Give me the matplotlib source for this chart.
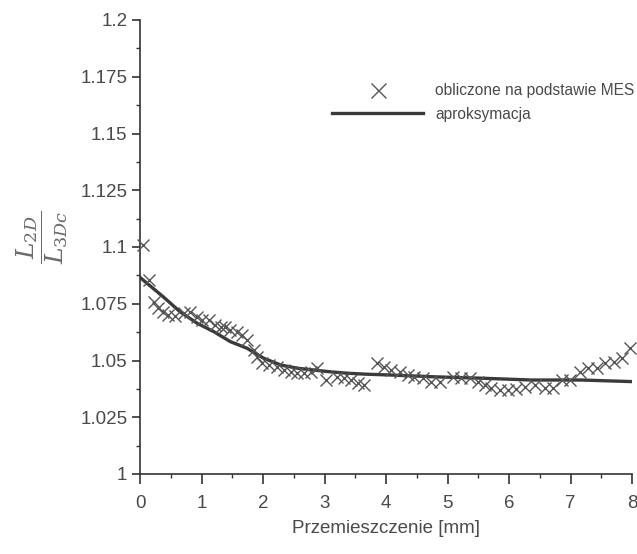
import matplotlib
matplotlib.use("Agg")
import matplotlib.pyplot as plt
from matplotlib.ticker import FixedLocator, FixedFormatter, MultipleLocator

# FEM-computed points (crosses)
x_mes = [0.05, 0.14, 0.22, 0.30, 0.38, 0.46, 0.57, 0.71, 0.82, 0.93, 1.01, 1.12,
         1.22, 1.31, 1.39, 1.47, 1.58, 1.66, 1.74, 1.85, 1.91, 1.99, 2.10, 2.23,
         2.34, 2.45, 2.56, 2.67, 2.78, 2.88, 3.02, 3.21, 3.32, 3.43, 3.54, 3.65,
         3.86, 3.97, 4.08, 4.22, 4.35, 4.46, 4.60, 4.73, 4.87, 5.09, 5.22, 5.36,
         5.50, 5.61, 5.71, 5.85, 5.99, 6.12, 6.26, 6.42, 6.58, 6.72, 6.86, 6.99,
         7.16, 7.29, 7.43, 7.56, 7.70, 7.84, 7.97]
y_mes = [1.1009, 1.0855, 1.0759, 1.0730, 1.0715, 1.0700, 1.0696, 1.0710, 1.0715,
         1.0690, 1.0680, 1.0678, 1.0656, 1.0649, 1.0649, 1.0634, 1.0627, 1.0612,
         1.0590, 1.0546, 1.0517, 1.0488, 1.0480, 1.0473, 1.0458, 1.0450, 1.0444,
         1.0444, 1.0450, 1.0466, 1.0414, 1.0429, 1.0422, 1.0414, 1.0400, 1.0392,
         1.0488, 1.0473, 1.0458, 1.0450, 1.0436, 1.0429, 1.0422, 1.0407, 1.0407,
         1.0429, 1.0422, 1.0422, 1.0407, 1.0392, 1.0378, 1.0370, 1.0370, 1.0373,
         1.0382, 1.0392, 1.0378, 1.0378, 1.0414, 1.0414, 1.0450, 1.0466, 1.0466,
         1.0488, 1.0495, 1.0510, 1.0554]

# Approximation curve
x_fit = [0.0, 0.38, 0.65, 0.93, 1.20, 1.47, 1.74, 2.01, 2.29, 2.56, 2.83, 3.10,
         3.37, 3.65, 4.08, 4.80, 5.55, 6.37, 7.18, 8.0]
y_fit = [1.0866, 1.0780, 1.0715, 1.0664, 1.0627, 1.0583, 1.0554, 1.0510, 1.0480,
         1.0466, 1.0458, 1.0450, 1.0444, 1.0440, 1.0436, 1.0428, 1.0422, 1.0414,
         1.0414, 1.0407]

y_ticks = [1.0, 1.025, 1.05, 1.075, 1.1, 1.125, 1.15, 1.175, 1.2]
y_labels = ["1", "1.025", "1.05", "1.075", "1.1", "1.125", "1.15", "1.175", "1.2"]
x_ticks = [0, 1, 2, 3, 4, 5, 6, 7, 8]

txt = "#4a4a4a"
plt.rcParams['font.family'] = ['Liberation Sans', 'DejaVu Sans']

W, H = 637, 554
fig = plt.figure(figsize=(W / 100, H / 100), dpi=100)
ax = fig.add_axes([140 / W, 1 - 474 / H, (632 - 140) / W, (474 - 20) / H])

ax.plot(x_fit, y_fit, color="#3a3a3a", lw=2.4, label="aproksymacja", zorder=2)
ax.plot(x_mes, y_mes, linestyle="none", marker="x", ms=9, mew=1.0,
        color="#555555", label="obliczone na podstawie MES", clip_on=False, zorder=3)

ax.set_xlim(0, 8)
ax.set_ylim(1.0, 1.2)
ax.spines['top'].set_visible(False)
ax.spines['right'].set_visible(False)
for s in ('left', 'bottom'):
    ax.spines[s].set_color("#333333")
    ax.spines[s].set_linewidth(1.2)

ax.yaxis.set_major_locator(FixedLocator(y_ticks))
ax.yaxis.set_major_formatter(FixedFormatter(y_labels))
ax.yaxis.set_minor_locator(MultipleLocator(0.0125))
ax.xaxis.set_major_locator(FixedLocator(x_ticks))
ax.xaxis.set_minor_locator(MultipleLocator(0.5))
ax.tick_params(which='major', direction='out', width=1.2,
               color="#333333", labelsize=13.5, labelcolor=txt)
ax.tick_params(axis='y', which='major', length=6, pad=3)
ax.tick_params(axis='x', which='major', length=7, pad=8)
ax.tick_params(which='minor', direction='out', length=3, width=1.0, color="#333333")

ax.set_xlabel("Przemieszczenie [mm]", fontsize=13.5, color=txt, labelpad=6)
fig.text(42 / W, 1 - 237 / H, r"$\dfrac{L_{2D}}{L_{3Dc}}$", rotation=90, fontsize=18,
         color="#6a6a6a", ha='center', va='center',
         math_fontfamily='dejavuserif')

handles, labels = ax.get_legend_handles_labels()
leg = ax.legend([handles[1], handles[0]], [labels[1], labels[0]],
                loc='upper left', bbox_to_anchor=(332 / W, 1 - 83 / H),
                bbox_transform=fig.transFigure, frameon=False,
                borderpad=0, borderaxespad=0,
                fontsize=11.2, handlelength=5.85, handletextpad=0.77,
                labelspacing=0.55, markerscale=1.2)
for t in leg.get_texts():
    t.set_color(txt)

fig.savefig("out.png", dpi=100)
